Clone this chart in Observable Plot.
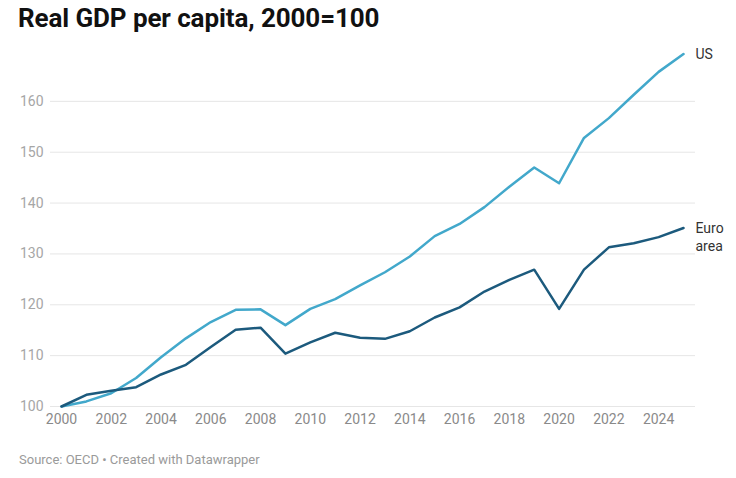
<!DOCTYPE html>
<html>
<head>
<meta charset="utf-8">
<script src="https://cdn.jsdelivr.net/npm/d3@7"></script>
<script src="https://cdn.jsdelivr.net/npm/@observablehq/plot@0.6"></script>
<style>
  body { margin: 0; background: #fff; font-family: Roboto, "Noto Sans", sans-serif; }
  #wrap { position: relative; width: 736px; height: 478px; }
  #title { position: absolute; left: 18px; top: 3px; font-size: 26px; font-weight: 700; color: #111; letter-spacing: -0.1px; }
  #chart { position: absolute; left: 0; top: 40px; }
  #source { position: absolute; left: 19px; top: 452px; font-size: 13px; color: #9a9a9a; }
</style>
</head>
<body>
<div id="wrap">
  <div id="title">Real GDP per capita, 2000=100</div>
  <div id="chart"></div>
  <div id="source">Source: OECD • Created with Datawrapper</div>
</div>
<script>
const years = d3.range(2000, 2026);
const usValues = [100, 101.0, 102.6, 105.6, 109.7, 113.4, 116.6, 119.0, 119.1, 116.0, 119.2, 121.1, 123.8, 126.4, 129.5, 133.5, 135.9, 139.2, 143.2, 147.0, 143.9, 152.8, 156.7, 161.3, 165.8, 169.3];
const euroValues = [100, 102.3, 103.1, 103.8, 106.3, 108.2, 111.7, 115.1, 115.5, 110.4, 112.6, 114.5, 113.5, 113.3, 114.8, 117.5, 119.5, 122.6, 124.9, 126.9, 119.2, 126.9, 131.3, 132.1, 133.3, 135.1];
const seriesNames = ["US", "Euro area"];
const seriesLabels = ["US", "Euro\narea"];
const seriesColors = ["#42a8cb", "#1c5a7d"];
const yTicks = [100, 110, 120, 130, 140, 150, 160];
const xTicks = d3.range(2000, 2025, 2);

const data = [
  ...years.map((y, i) => ({year: y, value: usValues[i], series: seriesNames[0]})),
  ...years.map((y, i) => ({year: y, value: euroValues[i], series: seriesNames[1]}))
];
const last = seriesNames.map((s, k) => ({year: years[years.length - 1], value: (k === 0 ? usValues : euroValues)[years.length - 1], series: s, label: seriesLabels[k]}));

const chart = Plot.plot({
  width: 736,
  height: 395,
  marginLeft: 61,
  marginRight: 53,
  marginTop: 10,
  marginBottom: 29,
  style: {fontFamily: "Roboto, sans-serif", fontSize: "14px", background: "transparent"},
  x: {domain: [2000, 2025], ticks: xTicks, tickFormat: d => String(d), label: null},
  y: {domain: [100, 170], ticks: yTicks, label: null},
  color: {domain: seriesNames, range: seriesColors},
  marks: [
    Plot.ruleY(yTicks, {stroke: "#e6e6e6", strokeWidth: 1, insetLeft: -11, insetRight: -12}),
    Plot.axisY({ticks: yTicks, tickSize: 0, tickPadding: 18, fill: "#a6a6a6", fontSize: 14, label: null}),
    Plot.axisX({ticks: xTicks, tickSize: 0, tickPadding: 8, fill: "#8a8a8a", fontSize: 14, label: null, tickFormat: d => String(d)}),
    Plot.line(data, {x: "year", y: "value", z: "series", stroke: "series", strokeWidth: 2.5, strokeLinejoin: "round", strokeLinecap: "round"}),
    Plot.text(last, {x: "year", y: "value", text: "label", dx: 12, dy: -8, textAnchor: "start", lineAnchor: "top", fill: "#333", fontSize: 14, lineHeight: 1.3})
  ]
});
document.getElementById("chart").appendChild(chart);
</script>
</body>
</html>
